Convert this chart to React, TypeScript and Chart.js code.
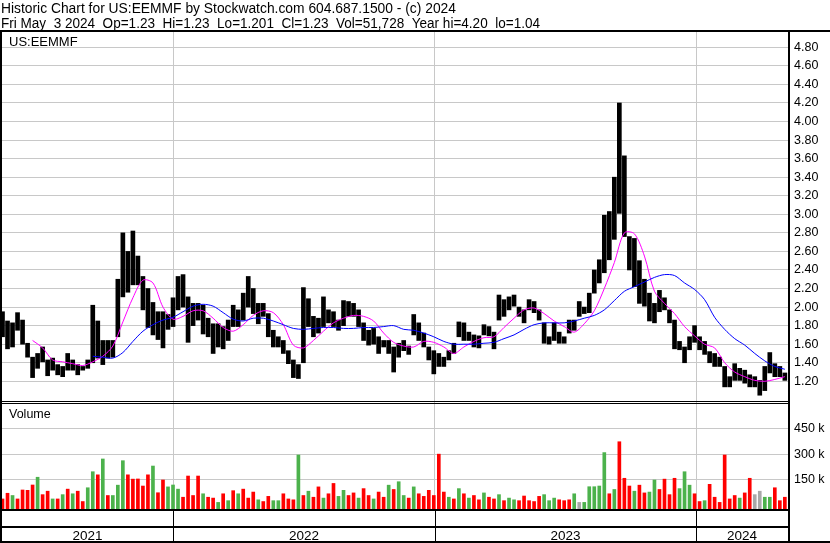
import React, { useEffect, useRef } from "react";
import { Chart, registerables } from "chart.js";

Chart.register(...registerables);

// ---------- text ----------
const HEADER_1 = "Historic Chart for US:EEMMF by Stockwatch.com 604.687.1500 - (c) 2024";
const HEADER_2 =
  "Fri May  3 2024  Op=1.23  Hi=1.23  Lo=1.201  Cl=1.23  Vol=51,728  Year hi=4.20  lo=1.04";
const SYMBOL = "US:EEMMF";
const VOLUME_LABEL = "Volume";
const YEARS = ["2021", "2022", "2023", "2024"];

// ---------- axes data ----------
// days counted from 2021-01-01
const YEAR_START_DAYS = [365, 730, 1095];
const X_MIN_DAY = 126.3;
const X_MAX_DAY = 1223.4;
const FIRST_WEEK_DAY = 127; // week of May 10 2021
const PRICE_TICKS = [1.2, 1.4, 1.6, 1.8, 2.0, 2.2, 2.4, 2.6, 2.8, 3.0, 3.2, 3.4, 3.6, 3.8, 4.0, 4.2, 4.4, 4.6, 4.8];
const VOLUME_TICKS = [150000, 300000, 450000];

// ---------- series (weekly) ----------
const weekHigh = [
  1.95, 1.85, 1.83, 1.94, 1.86, 1.61, 1.46, 1.5, 1.57, 1.43,
  1.45, 1.38, 1.36, 1.5, 1.43, 1.38, 1.36, 1.43, 2.02, 1.85,
  1.64, 1.64, 1.64, 2.3, 2.8, 2.6, 2.82, 2.55, 2.33, 2.2,
  2.05, 1.95, 1.95, 1.92, 2.1, 2.33, 2.35, 2.11, 2.04, 2.04,
  2.02, 1.88, 1.82, 1.82, 1.79, 1.86, 2.02, 1.97, 2.15, 2.33,
  2.2, 2.04, 2.04, 1.93, 1.75, 1.68, 1.64, 1.53, 1.43, 1.38,
  2.21, 2.09, 1.9, 1.88, 2.11, 1.97, 1.95, 1.86, 2.07, 2.06,
  2.04, 1.97, 1.83, 1.75, 1.77, 1.68, 1.64, 1.64, 1.57, 1.61,
  1.64, 1.58, 1.92, 1.83, 1.72, 1.57, 1.53, 1.5, 1.46, 1.53,
  1.61, 1.84, 1.83, 1.73, 1.7, 1.69, 1.81, 1.79, 1.73, 2.13,
  2.08, 2.11, 2.13, 2.0, 1.97, 2.08, 2.06, 1.97, 1.83, 1.68,
  1.83, 1.73, 1.68, 1.86, 1.86, 2.06, 2.0, 2.15, 2.4, 2.51,
  2.99, 3.03, 3.4, 4.2, 3.63, 2.76, 2.74, 2.5, 2.3, 2.15,
  2.04, 2.18, 2.1, 1.97, 1.86, 1.63, 1.57, 1.68, 1.8, 1.68,
  1.63, 1.52, 1.5, 1.46, 1.36, 1.25, 1.39, 1.34, 1.32, 1.27,
  1.25, 1.21, 1.36, 1.51, 1.39, 1.36, 1.29,
];
const weekLow = [
  1.68, 1.55, 1.57, 1.75, 1.6, 1.46, 1.24, 1.34, 1.41, 1.26,
  1.32, 1.27, 1.25, 1.32, 1.32, 1.27, 1.32, 1.34, 1.4, 1.45,
  1.38, 1.45, 1.46, 1.68, 2.11, 2.16, 2.24, 2.24, 1.97, 1.78,
  1.7, 1.65, 1.56, 1.76, 1.79, 1.97, 2.0, 1.62, 1.8, 1.86,
  1.71, 1.68, 1.5, 1.57, 1.55, 1.64, 1.79, 1.79, 1.86, 2.0,
  1.93, 1.82, 1.9, 1.68, 1.57, 1.57, 1.5, 1.39, 1.24, 1.23,
  1.4, 1.79, 1.68, 1.72, 1.79, 1.83, 1.79, 1.75, 1.8, 1.9,
  1.9, 1.79, 1.64, 1.59, 1.6, 1.5, 1.57, 1.5, 1.3, 1.46,
  1.53, 1.49, 1.7, 1.64, 1.57, 1.43, 1.28, 1.36, 1.36, 1.43,
  1.5, 1.68, 1.64, 1.64, 1.57, 1.56, 1.7, 1.69, 1.55, 1.86,
  1.9, 1.97, 2.01, 1.9, 1.83, 1.97, 1.94, 1.86, 1.61, 1.6,
  1.64, 1.61, 1.61, 1.72, 1.75, 1.9, 1.93, 1.94, 2.15, 2.26,
  2.37, 2.51, 2.73, 3.01, 2.76, 2.4, 2.22, 2.04, 2.01, 1.85,
  1.83, 1.95, 1.97, 1.83, 1.55, 1.54, 1.4, 1.54, 1.62, 1.54,
  1.49, 1.4, 1.36, 1.36, 1.14, 1.14, 1.21, 1.21, 1.18, 1.14,
  1.14, 1.05, 1.1, 1.29, 1.25, 1.25, 1.21,
];
// volume in thousands of shares
const weekVolumeK = [
  40, 73, 60, 40, 92, 90, 121, 166, 65, 85,
  40, 40, 65, 97, 70, 85, 25, 105, 198, 180,
  272, 60, 60, 120, 262, 180, 155, 156, 115, 180,
  231, 76, 150, 110, 121, 97, 50, 173, 60, 173,
  70, 50, 45, 20, 70, 30, 88, 70, 97, 45,
  80, 35, 25, 55, 30, 30, 70, 40, 35, 295,
  60, 85, 50, 110, 45, 70, 130, 55, 90, 60,
  75, 45, 100, 60, 40, 80, 50, 120, 95, 140,
  60, 45, 110, 70, 55, 90, 60, 300, 80, 50,
  40, 100, 70, 45, 60, 35, 75, 50, 40, 65,
  30, 45, 35, 30, 57, 30, 25, 55, 65, 30,
  45, 35, 30, 35, 70, 20, 20, 111, 111, 115,
  309, 70, 95, 372, 160, 115, 85, 120, 75, 80,
  150, 95, 155, 65, 160, 100, 198, 120, 70, 25,
  30, 125, 50, 20, 295, 40, 60, 45, 75, 160,
  65, 85, 50, 50, 105, 30, 50,
];
// 1 = up, -1 = down, 0 = unchanged
const weekDirection = [
  -1, -1, 1, -1, -1, -1, -1, 1, -1, -1,
  1, -1, 1, -1, 1, -1, -1, 1, 1, -1,
  1, -1, 1, 1, 1, -1, -1, -1, -1, -1,
  1, -1, -1, 1, 1, 1, -1, -1, -1, -1,
  1, -1, -1, 1, -1, 1, -1, 1, -1, -1,
  -1, 1, -1, -1, 1, 1, -1, -1, -1, 1,
  -1, 1, -1, -1, 1, -1, -1, 1, 1, -1,
  -1, 1, -1, -1, 1, -1, -1, 1, -1, 1,
  1, -1, 1, -1, -1, -1, -1, -1, -1, 1,
  -1, 1, -1, 1, -1, -1, 1, -1, -1, 1,
  -1, 1, 1, -1, -1, -1, -1, -1, 1, 1,
  1, -1, -1, -1, 1, 0, 1, 1, 1, 1,
  1, -1, 1, -1, -1, -1, 1, -1, -1, 1,
  1, -1, -1, -1, -1, 1, 1, 1, -1, -1,
  1, -1, -1, -1, -1, -1, -1, 1, -1, -1,
  0, 0, 1, 1, -1, -1, -1,
];
// moving averages, one value every second week
const maShort = [
  null, null, null, 1.64, 1.56, 1.43, 1.41, 1.39, 1.37, 1.41,
  1.47, 1.58, 1.84, 2.1, 2.29, 2.26, 2.0, 1.87, 1.9, 1.96,
  1.96, 1.88, 1.78, 1.74, 1.81, 1.91, 1.96, 1.94, 1.81, 1.59,
  1.56, 1.64, 1.74, 1.83, 1.88, 1.91, 1.9, 1.85, 1.72, 1.62,
  1.58, 1.57, 1.63, 1.62, 1.57, 1.5, 1.57, 1.63, 1.67, 1.68,
  1.78, 1.88, 1.97, 1.99, 1.93, 1.85, 1.79, 1.73, 1.82, 1.96,
  2.2, 2.48, 2.8, 2.79, 2.55, 2.17, 2.04, 1.93, 1.79, 1.69,
  1.6, 1.56, 1.4, 1.3, 1.25, 1.21, 1.2, 1.22, 1.25,
];
const maLong = [
  null, null, null, null, null, null, null, null, null, 1.47,
  1.46, 1.45, 1.51, 1.63, 1.74, 1.81, 1.86, 1.89, 1.95, 2.01,
  2.03, 2.01, 1.94, 1.87, 1.85, 1.88, 1.88, 1.85, 1.81, 1.77,
  1.76, 1.77, 1.78, 1.78, 1.77, 1.77, 1.78, 1.78, 1.79, 1.8,
  1.76, 1.75, 1.72, 1.68, 1.63, 1.6, 1.6, 1.6, 1.61, 1.62,
  1.66, 1.7, 1.76, 1.81, 1.83, 1.83, 1.83, 1.85, 1.88, 1.91,
  1.97, 2.07, 2.17, 2.22, 2.27, 2.32, 2.35, 2.34, 2.26, 2.19,
  2.08, 1.89, 1.76, 1.66, 1.59, 1.5, 1.42, 1.36, 1.33,
];

const FONT = "Arial, 'Liberation Sans', Helvetica, sans-serif";
const GRID = "#c8c8c8";

const weekDay = (i: number) => FIRST_WEEK_DAY + 7 * i;

const framePlugin = {
  id: "frame",
  beforeDraw(chart: any) {
    const ctx = chart.ctx;
    ctx.save();
    ctx.fillStyle = "#fff";
    ctx.fillRect(0, 0, chart.width, chart.height);
    ctx.restore();
  },
  afterDraw(chart: any) {
    const ctx = chart.ctx;
    const xs = chart.scales.x;
    const area = chart.chartArea;
    const W = chart.width;
    const H = chart.height;
    ctx.save();
    ctx.fillStyle = "#000";
    ctx.textAlign = "left";
    ctx.textBaseline = "alphabetic";
    ctx.font = `14px ${FONT}`;
    ctx.fillText(HEADER_1, 1, 13, 455);
    ctx.fillText(HEADER_2, 1, 28, 539);
    ctx.font = `13px ${FONT}`;
    ctx.fillText(SYMBOL, 9, 46);
    ctx.font = `12.5px ${FONT}`;
    ctx.fillText(VOLUME_LABEL, 9, 418);

    const R = area.right;
    // frame lines
    ctx.fillRect(0, 30, W, 2); // under header
    ctx.fillRect(0, 30, 2, H - 30); // left
    ctx.fillRect(R, 30, 2, H - 30); // axis separator
    ctx.fillRect(0, 401, R, 1); // price / volume separator
    ctx.fillRect(0, 403, R, 1);
    ctx.fillRect(0, area.bottom, R, 2); // under volume
    ctx.fillRect(0, 526, R, 2); // under date strip
    ctx.fillRect(0, H - 2, W, 2); // bottom

    const bounds = YEAR_START_DAYS.map((d) => Math.round(xs.getPixelForValue(d)));
    bounds.forEach((px) => ctx.fillRect(px, area.bottom + 2, 1, H - area.bottom - 4));

    const edges = [area.left, ...bounds, R];
    ctx.font = `13.5px ${FONT}`;
    ctx.textAlign = "center";
    YEARS.forEach((y, i) => {
      ctx.fillText(y, (edges[i] + edges[i + 1]) / 2, 540);
    });
    ctx.restore();
  },
};

export default function App() {
  const ref = useRef<HTMLCanvasElement | null>(null);

  useEffect(() => {
    if (!ref.current) return;
    const priceBars = weekHigh.map((h, i) => ({ x: weekDay(i), y: [weekLow[i], h] }));
    const volBars = weekVolumeK.map((v, i) => ({ x: weekDay(i), y: v * 1000 }));
    const volColors = weekDirection.map((d) => (d > 0 ? "#4cb24c" : d < 0 ? "#ff0000" : "#a8a8a8"));
    const shortPts = maShort.map((v, j) => ({ x: weekDay(2 * j), y: v }));
    const longPts = maLong.map((v, j) => ({ x: weekDay(2 * j), y: v }));

    const tickFont = { family: FONT, size: 12.5 };

    const chart = new Chart(ref.current, {
      type: "bar",
      data: {
        datasets: [
          {
            type: "line",
            data: shortPts as any,
            borderColor: "#ff00ff",
            borderWidth: 1,
            pointRadius: 0,
            tension: 0.3,
            spanGaps: false,
            yAxisID: "y",
            xAxisID: "x",
            order: 1,
          } as any,
          {
            type: "line",
            data: longPts as any,
            borderColor: "#0000ff",
            borderWidth: 1,
            pointRadius: 0,
            tension: 0.3,
            spanGaps: false,
            yAxisID: "y",
            xAxisID: "x",
            order: 0,
          } as any,
          {
            type: "bar",
            data: priceBars as any,
            backgroundColor: "#000000",
            barThickness: 4,
            grouped: false,
            yAxisID: "y",
            xAxisID: "x",
            order: 2,
          } as any,
          {
            type: "bar",
            data: volBars as any,
            backgroundColor: volColors,
            barThickness: 3,
            grouped: false,
            base: -18300,
            yAxisID: "yv",
            xAxisID: "x",
            order: 3,
          } as any,
        ],
      },
      options: {
        animation: false,
        responsive: false,
        devicePixelRatio: 1,
        events: [],
        layout: { padding: { left: 2, top: 32, right: 0, bottom: 1 } },
        plugins: { legend: { display: false }, tooltip: { enabled: false }, title: { display: false } },
        scales: {
          x: {
            type: "linear",
            position: "bottom",
            offset: false,
            min: X_MIN_DAY,
            max: X_MAX_DAY,
            afterBuildTicks: (s: any) => {
              s.ticks = YEAR_START_DAYS.map((v) => ({ value: v }));
            },
            afterFit: (s: any) => {
              s.height = 33;
            },
            ticks: { display: false },
            grid: { color: GRID, lineWidth: 1, drawTicks: false, offset: false },
            border: { display: false },
          },
          y: {
            type: "linear",
            position: "right",
            stack: "panels",
            stackWeight: 369,
            min: 0.9877,
            max: 4.965,
            afterBuildTicks: (s: any) => {
              s.ticks = PRICE_TICKS.map((v) => ({ value: v }));
            },
            afterFit: (s: any) => {
              s.width = 42;
            },
            ticks: {
              autoSkip: false,
              padding: 6,
              color: "#000",
              font: tickFont,
              callback: (v: any) => Number(v).toFixed(2),
            },
            grid: { color: GRID, lineWidth: 1, drawTicks: false },
            border: { display: false },
          },
          yv: {
            type: "linear",
            position: "right",
            stack: "panels",
            stackWeight: 108,
            min: -18300,
            max: 608400,
            afterBuildTicks: (s: any) => {
              s.ticks = VOLUME_TICKS.map((v) => ({ value: v }));
            },
            afterFit: (s: any) => {
              s.width = 42;
            },
            ticks: {
              autoSkip: false,
              padding: 6,
              color: "#000",
              font: tickFont,
              callback: (v: any) => `${Number(v) / 1000} k`,
            },
            grid: { color: GRID, lineWidth: 1, drawTicks: false },
            border: { display: false },
          },
        },
      } as any,
      plugins: [framePlugin],
    });
    return () => chart.destroy();
  }, []);

  return (
    <div style={{ position: "fixed", left: 0, top: 0, width: 830, height: 543, background: "#fff" }}>
      <canvas ref={ref} width={830} height={543} style={{ display: "block", width: 830, height: 543 }} />
    </div>
  );
}
